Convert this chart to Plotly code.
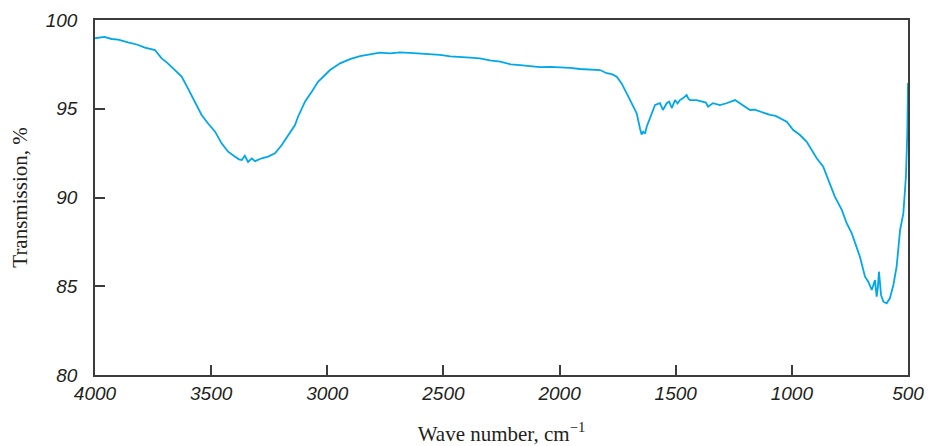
import plotly.graph_objects as go

# Wave number (cm^-1) and transmission (%)
wavenumber = [4000, 3960, 3928, 3900, 3858, 3820, 3785, 3760, 3742, 3713, 3690, 3656, 3627, 3600,
              3570, 3541, 3514, 3483, 3455, 3427, 3397, 3380, 3368, 3355, 3341, 3325, 3311, 3282,
              3255, 3225, 3196, 3169, 3139, 3126, 3096, 3067, 3040, 3010, 2988, 2945, 2902, 2859,
              2816, 2773, 2730, 2687, 2645, 2601, 2560, 2515, 2470, 2429, 2385, 2343, 2300, 2256,
              2210, 2170, 2125, 2084, 2040, 1998, 1955, 1912, 1870, 1826, 1797, 1775, 1754, 1733,
              1711, 1690, 1668, 1654, 1647, 1640, 1632, 1625, 1611, 1589, 1568, 1555, 1539, 1528,
              1517, 1503, 1492, 1482, 1468, 1453, 1445, 1438, 1410, 1395, 1383, 1370, 1361, 1340,
              1310, 1281, 1245, 1223, 1200, 1180, 1160, 1137, 1115, 1094, 1070, 1051, 1022, 994,
              965, 936, 908, 893, 865, 836, 815, 785, 764, 742, 728, 707, 685, 671, 656, 648, 642,
              635, 630, 625, 620, 616, 606, 592, 578, 563, 549, 534, 520, 509, 503, 500]
transmission = [98.97, 99.05, 98.93, 98.90, 98.74, 98.62, 98.44, 98.38, 98.31, 97.84, 97.60, 97.18,
                96.81, 96.15, 95.40, 94.65, 94.18, 93.71, 93.05, 92.58, 92.30, 92.15, 92.11, 92.35,
                92.00, 92.20, 92.05, 92.21, 92.30, 92.49, 92.96, 93.52, 94.08, 94.55, 95.40, 95.96,
                96.52, 96.90, 97.18, 97.56, 97.80, 97.97, 98.07, 98.16, 98.12, 98.18, 98.15, 98.12,
                98.05, 98.03, 97.95, 97.93, 97.88, 97.84, 97.72, 97.65, 97.50, 97.46, 97.38, 97.34,
                97.36, 97.34, 97.30, 97.24, 97.22, 97.18, 97.00, 96.95, 96.81, 96.43, 95.87, 95.31,
                94.74, 93.90, 93.55, 93.71, 93.60, 93.99, 94.46, 95.21, 95.31, 94.93, 95.31, 95.40,
                95.04, 95.49, 95.30, 95.49, 95.60, 95.77, 95.55, 95.49, 95.49, 95.45, 95.40, 95.35,
                95.12, 95.31, 95.21, 95.31, 95.49, 95.31, 95.10, 94.93, 94.95, 94.83, 94.75, 94.65,
                94.60, 94.46, 94.27, 93.80, 93.52, 93.14, 92.58, 92.21, 91.74, 90.80, 90.05, 89.30,
                88.55, 87.98, 87.42, 86.66, 85.54, 85.26, 84.79, 85.10, 85.35, 84.41, 84.90, 85.82,
                85.00, 84.51, 84.13, 84.04, 84.32, 85.07, 86.10, 88.17, 89.11, 91.17, 93.62, 96.45]

x_ticks = [4000, 3500, 3000, 2500, 2000, 1500, 1000, 500]
y_ticks = [80, 85, 90, 95, 100]

fig = go.Figure()
fig.add_trace(go.Scatter(
    x=wavenumber, y=transmission, mode="lines",
    line=dict(color="#00A8E8", width=1.8), showlegend=False,
))

axis_color = "#3c3c3c"
tick_font = dict(family="Liberation Sans, Arial, sans-serif", size=19, color="#231f20", style="italic")
title_font = dict(family="Liberation Serif, Times New Roman, serif", size=21, color="#231f20")

fig.update_xaxes(
    range=[4000, 500], tickvals=x_ticks, ticktext=[str(v) for v in x_ticks],
    showline=True, linecolor=axis_color, linewidth=1.5, mirror=True,
    ticks="inside", ticklen=10, tickwidth=1.5, tickcolor=axis_color,
    showgrid=False, zeroline=False, tickfont=tick_font, automargin=False,
    ticklabeloverflow="allow",
    title=dict(text="Wave number, cm<sup>\u22121</sup>", font=title_font, standoff=31),
)
fig.update_yaxes(
    range=[80, 100], tickvals=y_ticks, ticktext=[str(v) for v in y_ticks],
    showline=True, linecolor=axis_color, linewidth=1.5, mirror=True,
    ticks="inside", ticklen=10, tickwidth=1.5, tickcolor=axis_color,
    showgrid=False, zeroline=False, tickfont=tick_font, automargin=False,
    ticklabelstandoff=12,
    title=dict(text="Transmission, %", font=title_font, standoff=12),
)
fig.update_layout(
    width=928, height=446,
    margin=dict(l=95, r=20, t=20, b=71),
    paper_bgcolor="white", plot_bgcolor="white",
)
# Remove the default page margin so the figure fills the window exactly
fig.write_html(
    "out.html",
    config={"displayModeBar": False},
    post_script="document.body.style.margin='0';document.body.style.overflow='hidden';",
)
